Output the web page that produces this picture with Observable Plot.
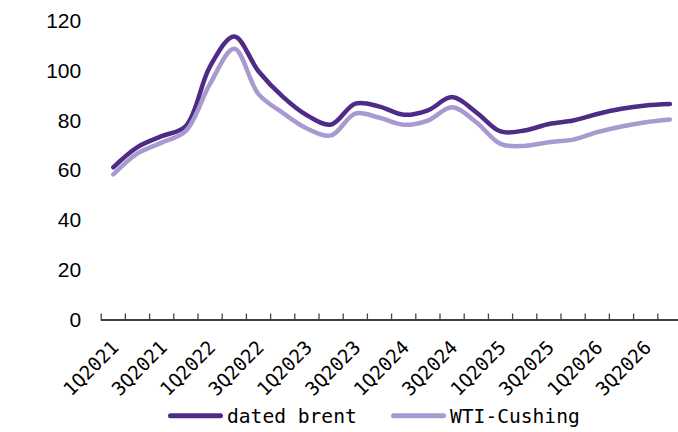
<!DOCTYPE html>
<html>
<head>
<meta charset="utf-8">
<script src="https://cdn.jsdelivr.net/npm/d3@7"></script>
<script src="https://cdn.jsdelivr.net/npm/@observablehq/plot@0.6"></script>
<style>
  html, body { margin: 0; padding: 0; background: #fff; }
  body { width: 678px; height: 432px; overflow: hidden; }
  #chart svg { display: block; }
  #legend { display: block; }
</style>
</head>
<body>
<div id="chart"></div>
<script>
const quarters = [
  "1Q2021","2Q2021","3Q2021","4Q2021",
  "1Q2022","2Q2022","3Q2022","4Q2022",
  "1Q2023","2Q2023","3Q2023","4Q2023",
  "1Q2024","2Q2024","3Q2024","4Q2024",
  "1Q2025","2Q2025","3Q2025","4Q2025",
  "1Q2026","2Q2026","3Q2026","4Q2026"
];
const datedBrent = [61.4, 69.5, 73.9, 78.0, 102.0, 114.0, 100.0, 89.8, 82.3, 78.6, 87.0, 85.8,
                    82.5, 84.3, 89.6, 83.5, 75.8, 76.2, 78.8, 80.2, 82.8, 84.9, 86.2, 86.8];
const wtiCushing = [58.5, 67.0, 71.3, 76.0, 95.0, 109.0, 90.8, 83.3, 77.0, 74.2, 83.0, 81.3,
                    78.5, 80.2, 85.5, 79.5, 70.8, 70.0, 71.5, 72.5, 75.5, 77.8, 79.5, 80.6];
const seriesNames = ["dated brent", "WTI-Cushing"];
const seriesColors = ["#4e2b86", "#a89ad0"];
const yTicks = [0, 20, 40, 60, 80, 100, 120];

const rows = [];
quarters.forEach((q, i) => {
  rows.push({i, q, v: datedBrent[i], s: seriesNames[0]});
  rows.push({i, q, v: wtiCushing[i], s: seriesNames[1]});
});
const idx = quarters.map((_, i) => i);
const labelIdx = idx.filter(i => i % 2 === 0);

const plot = Plot.plot({
  width: 678,
  height: 395,
  marginLeft: 100.7,
  marginRight: 0,
  marginTop: 21,
  marginBottom: 75.5,
  style: {background: "#fff", overflow: "visible"},
  x: {type: "linear", domain: [-0.5, quarters.length - 0.5], range: [100.7, 681.5], axis: null},
  y: {domain: [0, 120]},
  color: {domain: seriesNames, range: seriesColors},
  marks: [
    Plot.axisY({ticks: yTicks, tickSize: 0, tickPadding: 20, label: null,
      fontSize: 21, fontFamily: "Liberation Sans, Arial, sans-serif", color: "#000"}),
    Plot.ruleY([0], {stroke: "#000", strokeWidth: 1.3}),
    Plot.ruleX(idx, {x: i => i - 0.5, y1: 0, y2: 2.4, stroke: "#444", strokeWidth: 1.3}),
    Plot.text(labelIdx, {x: i => i, y: 0, text: i => quarters[i], rotate: -45,
      textAnchor: "end", lineAnchor: "top", dx: -3, dy: 19,
      fontSize: 19, fontFamily: "DejaVu Sans Mono, monospace", fill: "#000"}),
    Plot.line(rows, {x: "i", y: "v", z: "s", stroke: "s", curve: "catmull-rom",
      strokeWidth: 4.5, strokeLinecap: "round", strokeLinejoin: "round"})
  ]
});
document.getElementById("chart").appendChild(plot);

// Legend below the chart
const leg = d3.select("body").append("svg")
  .attr("id", "legend").attr("width", 678).attr("height", 37);
const legX = [168, 391];
seriesNames.forEach((name, k) => {
  leg.append("line")
    .attr("x1", legX[k] + 2.5).attr("x2", legX[k] + 52.5)
    .attr("y1", 20.7).attr("y2", 20.7)
    .attr("stroke", seriesColors[k]).attr("stroke-width", 5)
    .attr("stroke-linecap", "round");
  leg.append("text")
    .attr("x", legX[k] + 59).attr("y", 28)
    .attr("font-family", "DejaVu Sans Mono, monospace")
    .attr("font-size", 19.6).attr("fill", "#000")
    .text(name);
});
</script>
</body>
</html>
